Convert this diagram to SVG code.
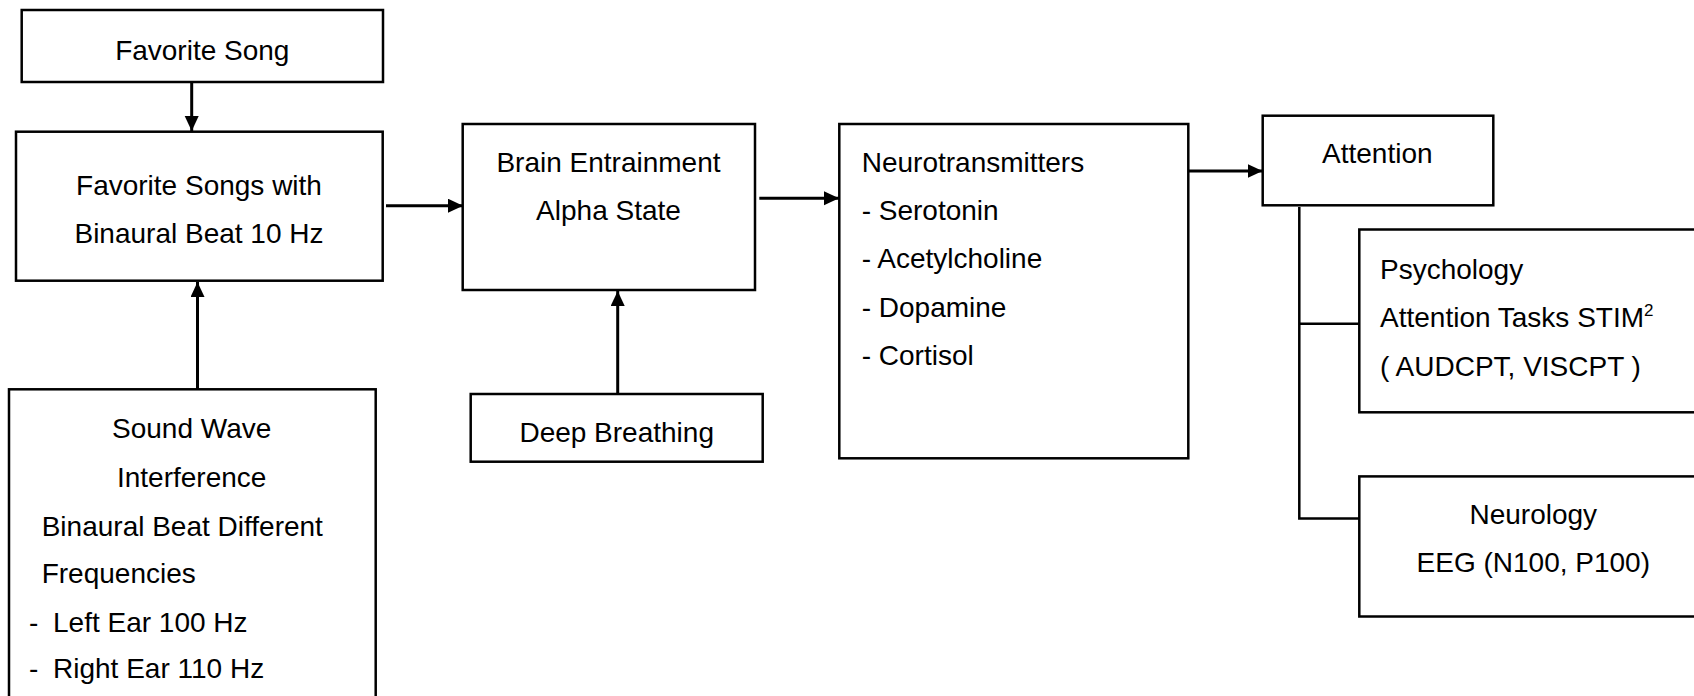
<svg xmlns="http://www.w3.org/2000/svg" width="1694" height="696" viewBox="0 0 1694 696">
<style>
.box{fill:#fff;stroke:#000;stroke-width:2.5}
.t{font-family:"Liberation Sans",Arial,sans-serif;font-size:28px;fill:#000}
.c{text-anchor:middle}
.con{stroke:#000;stroke-width:3;fill:none}
.tree{stroke:#000;stroke-width:2.5;fill:none}
</style>
<defs>
<marker id="ah" markerUnits="userSpaceOnUse" markerWidth="16" markerHeight="16" refX="15" refY="7" orient="auto">
<path d="M0,0 L15,7 L0,14 z" fill="#000"/>
</marker>
</defs>
<rect width="1694" height="696" fill="#fff"/>
<g id="connectors">
<line class="con" x1="191.7" y1="82" x2="191.7" y2="131" marker-end="url(#ah)"/>
<line class="con" x1="197.5" y1="389" x2="197.5" y2="282" marker-end="url(#ah)"/>
<line class="con" x1="386" y1="205.7" x2="463" y2="205.7" marker-end="url(#ah)"/>
<line class="con" x1="617.7" y1="394" x2="617.7" y2="291" marker-end="url(#ah)"/>
<line class="con" x1="759.3" y1="198.3" x2="839" y2="198.3" marker-end="url(#ah)"/>
<line class="con" x1="1188.3" y1="171" x2="1262.5" y2="171" marker-end="url(#ah)"/>
<path class="tree" d="M1299.3,207 V518.4 H1359.3 M1299.3,323.8 H1359.3"/>
</g>
<g id="favorite-song">
<rect class="box" x="21.7" y="10" width="361.3" height="72"/>
<text class="t c" x="202.3" y="60">Favorite Song</text>
</g>
<g id="favorite-songs-binaural">
<rect class="box" x="16" y="131.7" width="366.7" height="149"/>
<text class="t c" x="199" y="195">Favorite Songs with</text>
<text class="t c" x="199" y="243">Binaural Beat 10 Hz</text>
</g>
<g id="sound-wave">
<rect class="box" x="9" y="389.3" width="366.7" height="330"/>
<text class="t c" x="191.7" y="438.3">Sound Wave</text>
<text class="t c" x="191.7" y="486.7">Interference</text>
<text class="t" x="41.7" y="535.7">Binaural Beat Different</text>
<text class="t" x="41.7" y="583.3">Frequencies</text>
<text class="t" x="29" y="631.7">-</text>
<text class="t" x="53" y="631.7">Left Ear 100 Hz</text>
<text class="t" x="29" y="678.3">-</text>
<text class="t" x="53" y="678.3">Right Ear 110 Hz</text>
</g>
<g id="brain-entrainment">
<rect class="box" x="462.7" y="124" width="292.3" height="166"/>
<text class="t c" x="608.5" y="171.7">Brain Entrainment</text>
<text class="t c" x="608.5" y="220">Alpha State</text>
</g>
<g id="deep-breathing">
<rect class="box" x="470.7" y="394" width="292" height="67.7"/>
<text class="t c" x="616.7" y="441.7">Deep Breathing</text>
</g>
<g id="neurotransmitters">
<rect class="box" x="839.3" y="124" width="349" height="334.3"/>
<text class="t" x="861.7" y="171.7">Neurotransmitters</text>
<text class="t" x="861.7" y="220">- Serotonin</text>
<text class="t" x="861.7" y="268.3">- Acetylcholine</text>
<text class="t" x="861.7" y="316.7">- Dopamine</text>
<text class="t" x="861.7" y="365">- Cortisol</text>
</g>
<g id="attention">
<rect class="box" x="1262.7" y="115.7" width="230.6" height="89.6"/>
<text class="t c" x="1377.3" y="163.3">Attention</text>
</g>
<g id="psychology">
<rect class="box" x="1359.3" y="229.5" width="360" height="182.8"/>
<text class="t" x="1380" y="279.1">Psychology</text>
<text class="t" x="1380" y="327.3">Attention Tasks STIM<tspan font-size="17" dy="-11">2</tspan></text>
<text class="t" x="1380" y="375.5">( AUDCPT, VISCPT )</text>
</g>
<g id="neurology">
<rect class="box" x="1359.3" y="476.4" width="360" height="140.1"/>
<text class="t c" x="1533.3" y="523.6">Neurology</text>
<text class="t c" x="1533.3" y="571.8">EEG (N100, P100)</text>
</g>
</svg>
